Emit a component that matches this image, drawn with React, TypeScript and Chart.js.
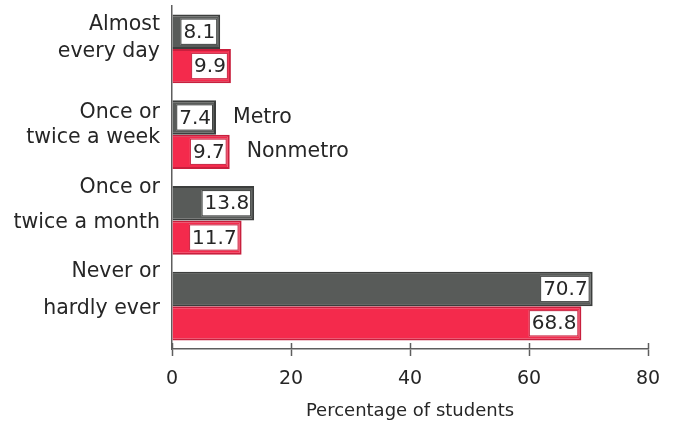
import { useEffect, useRef } from 'react';
import { Chart, registerables } from 'chart.js';

Chart.register(...registerables);

// Two-line category labels, top to bottom
const categories: string[][] = [
  ['Almost', 'every day'],
  ['Once or', 'twice a week'],
  ['Once or', 'twice a month'],
  ['Never or', 'hardly ever'],
];
// Baseline-to-baseline distance between the two lines of each label
const labelLineGaps = [27, 25, 35, 37];

const seriesNames = ['Metro', 'Nonmetro'];
const metro = [8.1, 7.4, 13.8, 70.7];
const nonmetro = [9.9, 9.7, 11.7, 68.8];

const xTicks = [0, 20, 40, 60, 80];
const xTitle = 'Percentage of students';

const FONT = '"DejaVu Sans", "Liberation Sans", sans-serif';
const TEXT = '#262626';
const AXIS = '#5e5e5e';
const FILLS = ['#585b59', '#f42a4c'];
const EDGES = ['#3c3e3d', '#c81f3d'];

// Category labels, right-aligned against the y axis
const categoryLabels = {
  id: 'categoryLabels',
  afterDraw(chart: any) {
    const ys = chart.scales.y;
    const ctx = chart.ctx;
    ctx.save();
    ctx.font = `20.5px ${FONT}`;
    ctx.fillStyle = TEXT;
    ctx.textAlign = 'right';
    ctx.textBaseline = 'alphabetic';
    const x = ys.right - 12;
    (chart.data.labels as string[][]).forEach((lines, i) => {
      const base = ys.getPixelForTick(i) + 8;
      ctx.fillText(lines[1], x, base);
      ctx.fillText(lines[0], x, base - labelLineGaps[i]);
    });
    ctx.restore();
  },
};

// White value boxes tucked into the end of each bar
const valueBoxes = {
  id: 'valueBoxes',
  afterDatasetsDraw(chart: any) {
    const ctx = chart.ctx;
    ctx.save();
    ctx.font = `20px ${FONT}`;
    ctx.textAlign = 'right';
    ctx.textBaseline = 'middle';
    chart.data.datasets.forEach((ds: any, di: number) => {
      const meta = chart.getDatasetMeta(di);
      meta.data.forEach((bar: any, i: number) => {
        const { x, y, height } = bar.getProps(['x', 'y', 'height'], true);
        const text = Number(ds.data[i]).toFixed(1);
        const w = ctx.measureText(text).width + 5;
        const right = x - 3;
        const top = y - height / 2 + 4;
        const h = height - 8;
        ctx.fillStyle = '#ffffff';
        ctx.fillRect(right - w, top, w, h);
        ctx.strokeStyle = EDGES[di];
        ctx.lineWidth = 1;
        ctx.strokeRect(right - w + 0.5, top + 0.5, w - 1, h - 1);
        ctx.fillStyle = TEXT;
        ctx.fillText(text, right - 2, y + 1);
      });
    });
    ctx.restore();
  },
};

// Series names written beside the second group of bars
const seriesTags = {
  id: 'seriesTags',
  afterDatasetsDraw(chart: any) {
    const ctx = chart.ctx;
    ctx.save();
    ctx.font = `20.5px ${FONT}`;
    ctx.fillStyle = TEXT;
    ctx.textAlign = 'left';
    ctx.textBaseline = 'middle';
    seriesNames.forEach((name, di) => {
      const bar = chart.getDatasetMeta(di).data[1];
      if (!bar) return;
      const { x, y } = bar.getProps(['x', 'y'], true);
      ctx.fillText(name, x + 17, y);
    });
    ctx.restore();
  },
};

// Short upward half of each x tick mark
const innerTicks = {
  id: 'innerTicks',
  afterDraw(chart: any) {
    const xs = chart.scales.x;
    const ctx = chart.ctx;
    ctx.save();
    ctx.strokeStyle = AXIS;
    ctx.lineWidth = 1.5;
    xTicks.forEach((v) => {
      const px = Math.round(xs.getPixelForValue(v)) + 0.5;
      ctx.beginPath();
      ctx.moveTo(px, xs.top - 6);
      ctx.lineTo(px, xs.top);
      ctx.stroke();
    });
    ctx.restore();
  },
};

export default function App() {
  const canvasRef = useRef<HTMLCanvasElement | null>(null);

  useEffect(() => {
    const canvas = canvasRef.current;
    if (!canvas) return;
    const chart = new Chart(canvas, {
      type: 'bar',
      data: {
        labels: categories,
        datasets: [
          {
            label: seriesNames[0],
            data: metro,
            backgroundColor: FILLS[0],
            borderColor: EDGES[0],
            borderWidth: 2,
            categoryPercentage: 0.8,
            barPercentage: 1.0,
          },
          {
            label: seriesNames[1],
            data: nonmetro,
            backgroundColor: FILLS[1],
            borderColor: EDGES[1],
            borderWidth: 2,
            categoryPercentage: 0.8,
            barPercentage: 1.0,
          },
        ],
      },
      options: {
        indexAxis: 'y',
        responsive: false,
        animation: false,
        devicePixelRatio: 1,
        layout: { padding: { left: 0, right: 30, top: 6, bottom: 0 } },
        plugins: {
          legend: { display: false },
          tooltip: { enabled: false },
        },
        scales: {
          x: {
            type: 'linear',
            min: 0,
            max: 80,
            afterBuildTicks: (scale: any) => {
              scale.ticks = xTicks.map((v) => ({ value: v }));
            },
            afterFit: (scale: any) => {
              scale.height = 76;
              scale.paddingLeft = 0;
              scale.paddingRight = 0;
            },
            grid: {
              display: true,
              drawOnChartArea: false,
              drawTicks: true,
              tickLength: 7,
              tickColor: AXIS,
              tickWidth: 1.5,
            },
            border: { display: true, color: AXIS, width: 1.5 },
            ticks: {
              padding: 12,
              color: TEXT,
              font: { family: FONT, size: 19 },
            },
            title: {
              display: true,
              text: xTitle,
              color: TEXT,
              font: { family: FONT, size: 18 },
              padding: { top: 9, bottom: 3 },
            },
          },
          y: {
            type: 'category',
            afterFit: (scale: any) => {
              scale.width = 172;
              scale.paddingTop = 0;
              scale.paddingBottom = 0;
            },
            grid: { display: false, drawTicks: false },
            border: { display: true, color: AXIS, width: 1.5 },
            ticks: { display: false },
          },
        },
      },
      plugins: [valueBoxes, seriesTags, innerTicks, categoryLabels],
    });
    return () => chart.destroy();
  }, []);

  return (
    <div style={{ position: 'absolute', left: 0, top: 0, width: 678, height: 425, background: '#fff' }}>
      <canvas ref={canvasRef} width={678} height={425} />
    </div>
  );
}
